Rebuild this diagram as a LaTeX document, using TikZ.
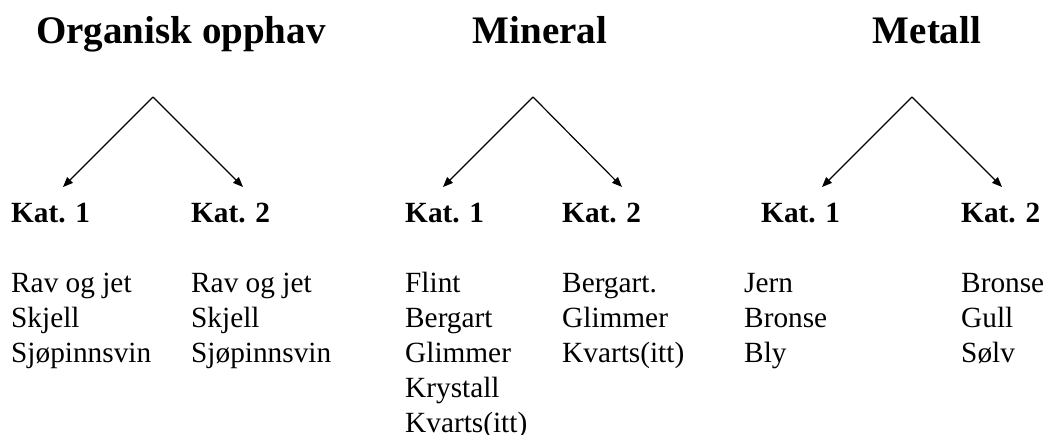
\documentclass[tikz,border=0pt]{standalone}
\usepackage{fontspec}
\setmainfont{Liberation Serif}
\usetikzlibrary{arrows.meta}
\def\titlefont{\fontsize{39}{44}\bfseries\selectfont}
\def\bodyfont{\fontsize{29.3}{35}\selectfont}

\tikzset{
	title/.style={anchor=base, inner sep=0pt, font=\titlefont},
	kat/.style={anchor=base west, inner sep=0pt, font=\bodyfont\bfseries},
	entry/.style={anchor=base west, inner sep=0pt, font=\bodyfont},
	branch/.style={line width=1.2pt, -{Triangle[length=10pt,width=8pt]}}
}

\begin{document}
\begin{tikzpicture}[x=1pt,y=-1pt]
			%%%%% START %%%%%
			\useasboundingbox (0, 0) rectangle (1048, 434);
			
			\node[title] (orgtitle) at (181, 43) {Organisk opphav};
			\node[title] (mintitle) at (540, 43) {Mineral};
			\node[title] (mettitle) at (927, 43) {Metall};
			
			\coordinate (orgtop) at (153, 97);
			\coordinate (mintop) at (533, 97);
			\coordinate (mettop) at (912, 97);
			
			\coordinate (orgtip1) at (63, 187);
			\coordinate (orgtip2) at (243, 187);
			\coordinate (mintip1) at (443, 187);
			\coordinate (mintip2) at (622, 187);
			\coordinate (mettip1) at (822, 187);
			\coordinate (mettip2) at (1002, 187);
			
			\draw[branch] (orgtop) -- (orgtip1);
			\draw[branch] (orgtop) -- (orgtip2);
			\draw[branch] (mintop) -- (mintip1);
			\draw[branch] (mintop) -- (mintip2);
			\draw[branch] (mettop) -- (mettip1);
			\draw[branch] (mettop) -- (mettip2);
			
			\node[kat] (orgkat1) at (11, 222) {Kat. 1};
			\node[kat] (orgkat2) at (191, 222) {Kat. 2};
			\node[kat] (minkat1) at (405, 222) {Kat. 1};
			\node[kat] (minkat2) at (562, 222) {Kat. 2};
			\node[kat] (metkat1) at (761, 222) {Kat. 1};
			\node[kat] (metkat2) at (961, 222) {Kat. 2};
			
			\foreach \w [count=\i] in {Rav og jet, Skjell, Sjøpinnsvin}
				\node[entry] (orga\i) at (11, 257+35*\i) {\w};
			\foreach \w [count=\i] in {Rav og jet, Skjell, Sjøpinnsvin}
				\node[entry] (orgb\i) at (191, 257+35*\i) {\w};
			
			\foreach \w [count=\i] in {Flint, Bergart, Glimmer, Krystall, Kvarts(itt)}
				\node[entry] (mina\i) at (405, 257+35*\i) {\w};
			\foreach \w [count=\i] in {Bergart., Glimmer, Kvarts(itt)}
				\node[entry] (minb\i) at (562, 257+35*\i) {\w};
			
			\foreach \w [count=\i] in {Jern, Bronse, Bly}
				\node[entry] (meta\i) at (744, 257+35*\i) {\w};
			\foreach \w [count=\i] in {Bronse, Gull, Sølv}
				\node[entry] (metb\i) at (961, 257+35*\i) {\w};
			
			%%%%% END %%%%%
\end{tikzpicture}
\end{document}
